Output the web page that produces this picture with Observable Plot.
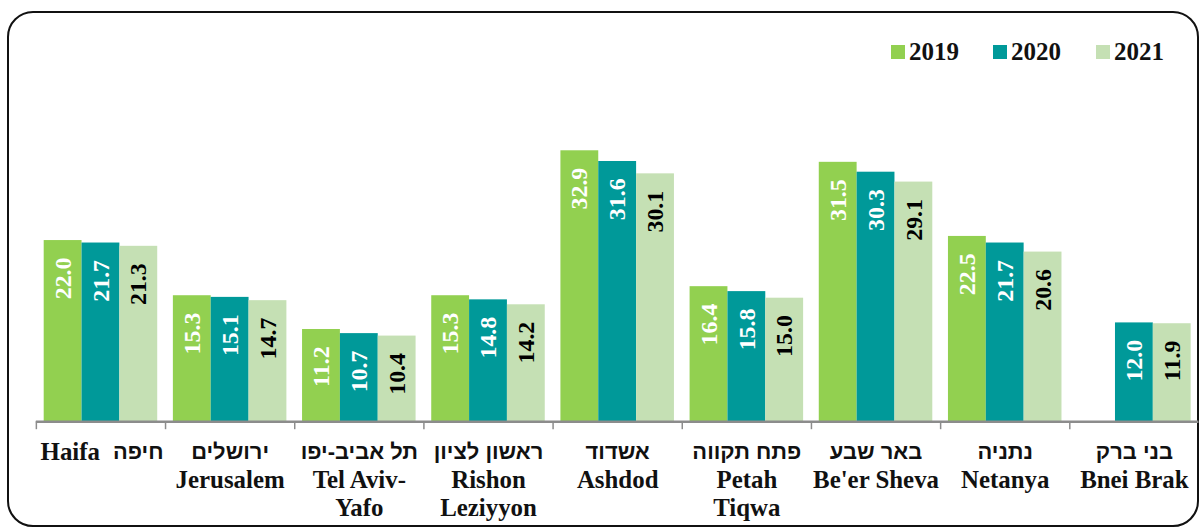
<!DOCTYPE html>
<html>
<head>
<meta charset="utf-8">
<script src="https://cdn.jsdelivr.net/npm/d3@7"></script>
<script src="https://cdn.jsdelivr.net/npm/@observablehq/plot@0.6"></script>
<style>
  html, body { margin: 0; padding: 0; background: #fff; overflow: hidden; width: 1199px; height: 531px; }
  #wrap { position: relative; width: 1199px; height: 531px; overflow: hidden; }
  #frame { position: absolute; left: 7px; top: 11px; width: 1192px; height: 516px; border: 2px solid #111; border-radius: 26px; box-sizing: border-box; }
  #chart { position: absolute; left: 0; top: 0; }
  #legend { position: absolute; top: 38px; left: 0; width: 1199px; height: 30px; font-family: "Liberation Serif", serif; font-weight: bold; font-size: 25px; color: #111; }
  .item { position: absolute; top: 0; display: flex; align-items: center; }
  .sw { width: 14px; height: 14px; margin-right: 4px; }
</style>
</head>
<body>
<div id="wrap">
  <div id="frame"></div>
  <div id="chart"></div>
  <div id="legend"></div>
</div>
<script>
const cities = ["Haifa", "Jerusalem", "Tel Aviv-Yafo", "Rishon Leziyyon", "Ashdod", "Petah Tiqwa", "Be'er Sheva", "Netanya", "Bnei Brak"];
const hebrewNames = ["חיפה", "ירושלים", "תל אביב-יפו", "ראשון לציון", "אשדוד", "פתח תקווה", "באר שבע", "נתניה", "בני ברק"];
const englishLabels = ["Haifa", "Jerusalem", "Tel Aviv-\nYafo", "Rishon\nLeziyyon", "Ashdod", "Petah\nTiqwa", "Be'er Sheva", "Netanya", "Bnei Brak"];
const years = ["2019", "2020", "2021"];
const values2019 = [22.0, 15.3, 11.2, 15.3, 32.9, 16.4, 31.5, 22.5, null];
const values2020 = [21.7, 15.1, 10.7, 14.8, 31.6, 15.8, 30.3, 21.7, 12.0];
const values2021 = [21.3, 14.7, 10.4, 14.2, 30.1, 15.0, 29.1, 20.6, 11.9];
const colors = ["#92D050", "#009999", "#C5E0B4"];
const labelColors = ["#ffffff", "#ffffff", "#000000"];

const seriesValues = [values2019, values2020, values2021];
const rowsByYear = years.map((yr, k) =>
  cities.map((c, i) => ({city: c, year: yr, value: seriesValues[k][i]})).filter(d => d.value != null)
);
const labelRows = cities.map((c, i) => ({city: c, he: hebrewNames[i], en: englishLabels[i]}));

const W = 1204, ML = 36, MR = 0.5;
const bw = (W - ML - MR) / cities.length;
const barW = 38;
const serif = "Liberation Serif, Times New Roman, serif";
const sans = "Liberation Sans, Arial, sans-serif";

const marks = [];
years.forEach((yr, k) => {
  const dx = (k - 1) * barW;
  const inset = (bw - barW) / 2;
  marks.push(Plot.barY(rowsByYear[k], {x: "city", y: "value", fill: colors[k], insetLeft: inset + dx, insetRight: inset - dx}));
  marks.push(Plot.text(rowsByYear[k], {
    x: "city", y: "value", text: d => d.value.toFixed(1), rotate: -90, textAnchor: "end",
    dx: dx, dy: 17, fill: labelColors[k], fontFamily: serif, fontWeight: "bold", fontSize: 24
  }));
});
// axis line and ticks at band boundaries
marks.push(Plot.ruleY([0], {stroke: "#8c8c8c", strokeWidth: 2.5}));
marks.push(Plot.ruleX(cities, {x: d => d, y1: 0, y2: 0, insetBottom: -8, dx: -bw / 2, stroke: "#8c8c8c", strokeWidth: 1.5}));
// category labels
const rest = labelRows.filter(d => d.city !== "Haifa");
const haifa = labelRows.filter(d => d.city === "Haifa");
marks.push(Plot.text(rest, {x: "city", y: () => 0, text: "he", dy: 30, fontFamily: sans, fontWeight: "bold", fontSize: 22, fill: "#111"}));
marks.push(Plot.text(rest, {x: "city", y: () => 0, text: "en", dy: 46, lineAnchor: "top", lineHeight: 1.14, fontFamily: serif, fontWeight: "bold", fontSize: 25, fill: "#111"}));
marks.push(Plot.text(haifa, {x: "city", y: () => 0, text: "en", dx: -1, dy: 30, textAnchor: "end", fontFamily: serif, fontWeight: "bold", fontSize: 25, fill: "#111"}));
marks.push(Plot.text(haifa, {x: "city", y: () => 0, text: "he", dx: 12, dy: 30, textAnchor: "start", fontFamily: sans, fontWeight: "bold", fontSize: 22, fill: "#111"}));

const chart = Plot.plot({
  width: W,
  height: 531,
  marginLeft: ML,
  marginRight: MR,
  marginTop: 92.2,
  marginBottom: 108,
  style: {background: "transparent", overflow: "visible"},
  x: {domain: cities, padding: 0, round: false, axis: null},
  y: {domain: [0, 40], axis: null},
  marks
});
document.getElementById("chart").appendChild(chart);

const legend = document.getElementById("legend");
const legendLeft = [891, 993, 1096];
years.forEach((yr, k) => {
  const it = document.createElement("div");
  it.className = "item";
  it.style.left = legendLeft[k] + "px";
  const sw = document.createElement("span");
  sw.className = "sw";
  sw.style.background = colors[k];
  const t = document.createElement("span");
  t.textContent = yr;
  it.appendChild(sw); it.appendChild(t);
  legend.appendChild(it);
});
</script>
</body>
</html>
